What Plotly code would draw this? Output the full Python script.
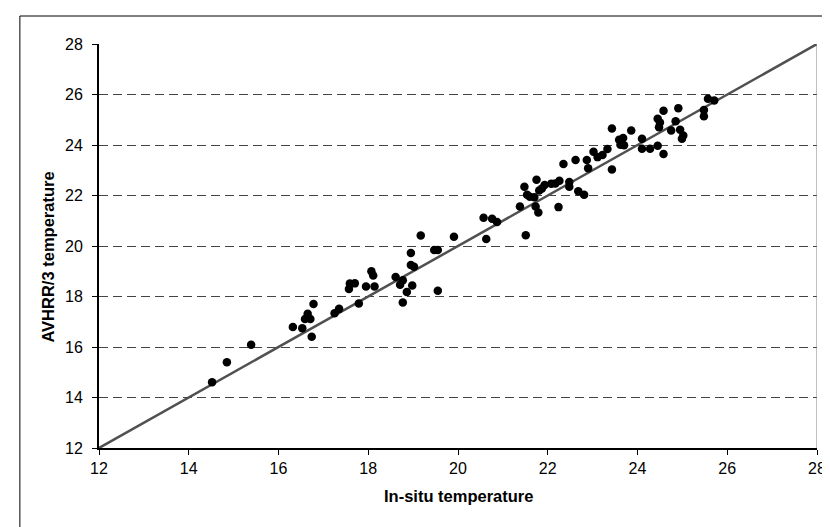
import plotly.graph_objects as go

# In-situ temperature (x) and AVHRR/3 temperature (y)
insitu = [
    14.52, 14.85, 15.39, 16.32, 16.53, 16.74, 16.59, 16.71, 16.65, 16.78,
    17.25, 17.35, 17.79, 17.57, 17.59, 17.70, 17.95, 18.14, 18.07, 18.11,
    18.77, 18.61, 18.71, 18.77, 18.86, 18.98, 19.55, 18.95, 19.02, 18.95,
    19.17, 19.47, 19.55, 19.91, 20.57, 20.63, 20.76, 20.87, 21.51, 21.38,
    21.48, 21.54, 21.60, 21.70, 21.73, 21.79, 21.75, 21.81, 21.87, 21.93,
    22.08, 22.17, 22.24, 22.26, 22.35, 22.48, 22.48, 22.62, 22.68,
    22.81, 22.87, 22.90, 23.02, 23.11, 23.22, 23.33, 23.43, 23.43, 23.59,
    23.68, 23.62, 23.70, 23.86, 24.10, 24.10, 24.28, 24.45, 24.58, 24.45,
    24.50, 24.48, 24.58, 24.75, 24.85, 24.91, 24.95, 25.02, 24.99, 25.48,
    25.48, 25.57, 25.71,
]
avhrr = [
    14.60, 15.40, 16.09, 16.79, 16.74, 16.41, 17.11, 17.11, 17.32, 17.70,
    17.34, 17.51, 17.72, 18.30, 18.51, 18.52, 18.40, 18.40, 19.00, 18.83,
    17.76, 18.77, 18.47, 18.64, 18.18, 18.44, 18.23, 19.25, 19.18, 19.72,
    20.42, 19.84, 19.84, 20.37, 21.12, 20.28, 21.08, 20.95, 20.43, 21.56,
    22.35, 22.03, 21.95, 21.93, 21.56, 21.33, 22.62, 22.20, 22.28, 22.42,
    22.47, 22.48, 21.54, 22.58, 23.25, 22.53, 22.35, 23.41, 22.17,
    22.03, 23.41, 23.08, 23.73, 23.52, 23.60, 23.84, 23.03, 24.65, 24.21,
    24.28, 24.01, 23.99, 24.57, 24.25, 23.85, 23.85, 23.97, 23.64, 25.04,
    24.89, 24.70, 25.36, 24.57, 24.94, 25.46, 24.60, 24.38, 24.25, 25.39,
    25.14, 25.83, 25.76,
]
line_xy = [12, 28]
ticks = [12, 14, 16, 18, 20, 22, 24, 26, 28]
x_title = "In-situ temperature"
y_title = "AVHRR/3 temperature"

FONT = "Liberation Sans, Arial, sans-serif"

fig = go.Figure()
fig.add_trace(go.Scatter(
    x=line_xy, y=line_xy, mode="lines",
    line=dict(color="#505050", width=2.5),
    hoverinfo="skip", showlegend=False,
))
fig.add_trace(go.Scatter(
    x=insitu, y=avhrr, mode="markers",
    marker=dict(color="black", size=8.5, line=dict(width=0)),
    showlegend=False,
))

W, H = 830, 527
L, R, T, B = 91, 13, 36, 87
pw, ph = W - L - R, H - T - B

def px(xp):
    return (xp - L) / pw

def py(yp):
    return (H - B - yp) / ph

fig.update_layout(
    width=W, height=H,
    margin=dict(l=L, r=R, t=T, b=B, pad=0),
    paper_bgcolor="white", plot_bgcolor="white",
    font=dict(family=FONT, size=16, color="black"),
    xaxis=dict(
        range=[12, 28], tickvals=ticks, ticktext=[str(t) for t in ticks],
        showgrid=False, zeroline=False,
        showline=True, linecolor="black", linewidth=2,
        ticks="outside", ticklen=5, tickwidth=1, tickcolor="black",
        tickfont=dict(family=FONT, size=16, color="black"),
    ),
    yaxis=dict(
        range=[12, 28], tickvals=ticks, ticktext=[str(t) for t in ticks],
        showgrid=True, gridcolor="#444444", gridwidth=1, griddash="9px,5px",
        zeroline=False,
        showline=True, linecolor="black", linewidth=2,
        ticks="outside", ticklen=5, tickwidth=1, tickcolor="black",
        ticklabelstandoff=6,
        tickfont=dict(family=FONT, size=16, color="black"),
    ),
    shapes=[
        # right border of plot area
        dict(type="line", xref="x", yref="y", x0=28, x1=28, y0=12, y1=28,
             line=dict(color="#808080", width=1)),
        # outer chart border (extends beyond the right/bottom of the image)
        dict(type="rect", xref="paper", yref="paper",
             x0=px(11), x1=px(840), y0=py(540), y1=py(8),
             line=dict(color="black", width=1), fillcolor="rgba(0,0,0,0)",
             layer="below"),
    ],
    annotations=[
        dict(text=f"<b>{x_title}</b>", xref="paper", yref="paper",
             x=px(454), y=py(488), xanchor="center", yanchor="middle",
             showarrow=False, font=dict(family=FONT, size=16.5, color="black")),
        dict(text=f"<b>{y_title}</b>", xref="paper", yref="paper",
             x=px(39), y=py(249), xanchor="center", yanchor="middle",
             textangle=-90, showarrow=False,
             font=dict(family=FONT, size=16.5, color="black")),
    ],
)

fig.write_html("out.html")
